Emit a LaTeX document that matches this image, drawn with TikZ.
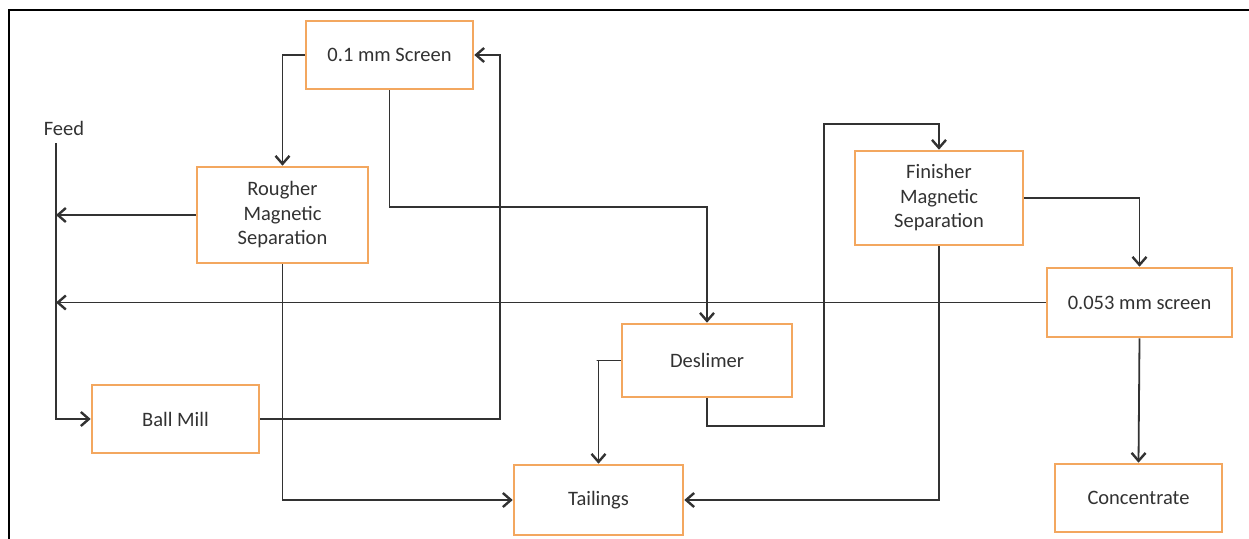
\documentclass[tikz,border=0pt]{standalone}
\usepackage{fontspec}
\setmainfont{Carlito}
\usetikzlibrary{arrows.meta}
\definecolor{boxorange}{RGB}{243,167,95}
\definecolor{inkgray}{RGB}{50,50,50}
\begin{document}
\begin{tikzpicture}[x=1pt,y=-1pt,
    unit/.style={draw=boxorange,line width=2.6pt,fill=white,inner sep=0pt,
      align=center,text=inkgray,font=\fontsize{20.5}{24.5}\selectfont},
    flow/.style={draw=inkgray,line width=1.8pt,-{Straight Barb[length=8pt,width=14pt,line width=2.4pt]}}]
        \useasboundingbox (0,0) rectangle (1249,538);
        \draw[line width=2.2pt] (9,540) -- (9,10) -- (1251,10);
        \node[text=inkgray,font=\fontsize{20.5}{24.5}\selectfont] at (64,128) (feed) {Feed};
        \coordinate (feedtop) at (56,143);
        \node[unit,minimum width=167pt,minimum height=68pt] at (389.5,55)  (screen) {0.1 mm Screen};
        \node[unit,minimum width=171pt,minimum height=96pt] at (282.5,215) (rougher) {Rougher\\Magnetic\\Separation};
        \node[unit,minimum width=167pt,minimum height=68pt] at (175.5,419) (mill) {Ball Mill};
        \node[unit,minimum width=170pt,minimum height=73pt] at (707,360.5) (deslimer) {Deslimer};
        \node[unit,minimum width=169pt,minimum height=70pt] at (598.5,500) (tailings) {Tailings};
        \node[unit,minimum width=168pt,minimum height=94pt] at (939,198)   (finisher) {Finisher\\Magnetic\\Separation};
        \node[unit,minimum width=185pt,minimum height=69pt] at (1139.5,302.5) (fine) {0.053 mm screen};
        \node[unit,minimum width=167pt,minimum height=68pt] at (1138.5,498) (conc) {Concentrate};
        \draw[flow] (feedtop) |- (mill.west);
        \draw[flow] (screen.west) -| (rougher.north);
        \draw[flow] (mill.east) -| (500,55) -- (screen.east);
        \draw[flow] (screen.south) -- ++(0,117) -| (deslimer.north);
        \draw[flow] (rougher.west) -- (rougher.west -| feedtop);
        \draw[flow] (rougher.south) |- (tailings.west);
        \draw[flow] (fine.west) -- (fine.west -| feedtop);
        \draw[flow] (deslimer.west) -- ++(-24,0) -| (tailings.north);
        \draw[flow] (deslimer.south) -- ++(0,28) -| ++(117,-302) -| (finisher.north);
        \draw[flow] (finisher.east) -| (fine.north);
        \draw[flow] (finisher.south) |- (tailings.east);
        \draw[flow] (fine.south) -- (conc.north);
      \end{tikzpicture}
\end{document}
